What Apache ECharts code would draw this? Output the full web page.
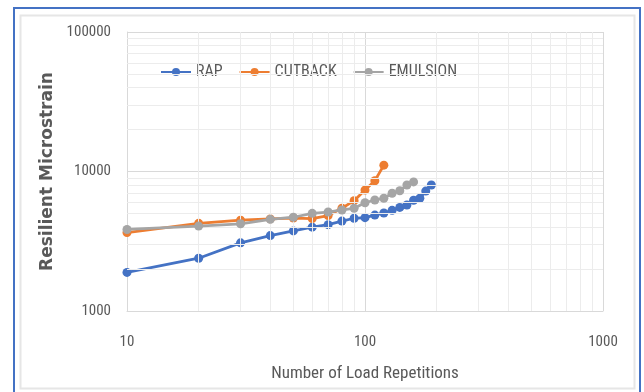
<!DOCTYPE html>
<html>
<head>
<meta charset="utf-8">
<script src="https://cdn.jsdelivr.net/npm/echarts@6/dist/echarts.min.js"></script>
<style>
  html, body { margin: 0; padding: 0; background: #ffffff; }
  #chart { width: 644px; height: 392px; }
</style>
</head>
<body>
<div id="chart"></div>
<script>
// Load repetitions at which resilient microstrain was recorded
const rapCycles = [10, 20, 30, 40, 50, 60, 70, 80, 90, 100, 110, 120, 130, 140, 150, 160, 170, 180, 190];
const rapStrain = [1890, 2390, 3080, 3470, 3750, 3990, 4160, 4410, 4620, 4670, 4870, 5040, 5270, 5530, 5750, 6220, 6430, 7240, 8000];

const cutbackCycles = [10, 20, 30, 40, 50, 60, 70, 80, 90, 100, 110, 120];
const cutbackStrain = [3650, 4250, 4480, 4570, 4640, 4600, 4830, 5450, 6180, 7360, 8590, 11100];

const emulsionCycles = [10, 20, 30, 40, 50, 60, 70, 80, 90, 100, 110, 120, 130, 140, 150, 160];
const emulsionStrain = [3840, 4060, 4220, 4540, 4700, 5010, 5120, 5300, 5450, 5970, 6250, 6430, 6980, 7280, 8000, 8420];

// Minor grid positions between the decades of each log axis
const xMinorGrid = [20, 30, 40, 50, 60, 70, 80, 90, 200, 300, 400, 500, 600, 700, 800, 900];
const yMinorGrid = [2000, 3000, 4000, 5000, 6000, 7000, 8000, 9000, 20000, 30000, 40000, 50000, 60000, 70000, 80000, 90000];

const seriesNames = ['RAP', 'CUTBACK', 'EMULSION'];
const seriesColors = ['#4472C4', '#ED7D31', '#A5A5A5'];

const textColor = '#595959';
const narrowFont = '"Liberation Sans Narrow", "Roboto Condensed", "Arial Narrow", Roboto, sans-serif';

function pairs(xs, ys) {
  return xs.map((x, i) => [x, ys[i]]);
}

function plainNumber(v) {
  return String(Math.round(v));
}

function lineSeries(idx, xs, ys) {
  return {
    name: seriesNames[idx],
    type: 'line',
    data: pairs(xs, ys),
    symbol: 'circle',
    symbolSize: 9,
    showSymbol: true,
    lineStyle: { width: 2.75, color: seriesColors[idx] },
    itemStyle: { color: seriesColors[idx] },
    z: 3 + idx,
    animation: false
  };
}

const chart = echarts.init(document.getElementById('chart'), null, { renderer: 'canvas' });

chart.setOption({
  backgroundColor: '#ffffff',
  animation: false,
  graphic: [
    { type: 'rect', shape: { x: 14, y: 8, width: 626, height: 400 },
      style: { fill: 'none', stroke: '#4472C4', lineWidth: 2 }, z: 100 },
    { type: 'rect', shape: { x: 20.5, y: 15.5, width: 614, height: 373 },
      style: { fill: 'none', stroke: '#e6e6e6', lineWidth: 2 }, z: 99 }
  ],
  grid: { left: 127, right: 41, top: 32, bottom: 81, containLabel: false },
  legend: {
    data: seriesNames,
    left: 155,
    top: 59,
    itemWidth: 30,
    itemHeight: 10,
    itemGap: 16,
    textStyle: { color: textColor, fontFamily: narrowFont, fontSize: 16 }
  },
  xAxis: {
    type: 'log',
    logBase: 10,
    min: 10,
    max: 1000,
    name: 'Number of Load Repetitions',
    nameLocation: 'middle',
    nameGap: 54,
    nameTextStyle: { color: textColor, fontFamily: narrowFont, fontSize: 17 },
    axisLine: { show: true, lineStyle: { color: '#d9d9d9', width: 1 } },
    axisTick: { show: false },
    axisLabel: { color: textColor, fontFamily: narrowFont, fontSize: 15, margin: 24, formatter: plainNumber },
    splitLine: { show: true, lineStyle: { color: '#d9d9d9', width: 1 } }
  },
  yAxis: {
    type: 'log',
    logBase: 10,
    min: 1000,
    max: 100000,
    name: 'Resilient Microstrain',
    nameLocation: 'middle',
    nameGap: 67,
    nameTextStyle: { color: textColor, fontFamily: '"DejaVu Sans", sans-serif', fontSize: 17, fontWeight: 'bold' },
    axisLine: { show: true, lineStyle: { color: '#d9d9d9', width: 1 } },
    axisTick: { show: false },
    axisLabel: { color: textColor, fontFamily: narrowFont, fontSize: 15, margin: 16, formatter: plainNumber },
    splitLine: { show: true, lineStyle: { color: '#d9d9d9', width: 1 } }
  },
  series: [
    // Faint minor grid lines, placed through the log scales
    {
      type: 'line',
      data: [],
      silent: true,
      z: 1,
      markLine: {
        silent: true,
        symbol: 'none',
        label: { show: false },
        lineStyle: { color: '#ececec', width: 1, type: 'solid' },
        animation: false,
        data: xMinorGrid.map(v => ({ xAxis: v })).concat(yMinorGrid.map(v => ({ yAxis: v })))
      }
    },
    lineSeries(0, rapCycles, rapStrain),
    lineSeries(1, cutbackCycles, cutbackStrain),
    lineSeries(2, emulsionCycles, emulsionStrain)
  ]
});
</script>
</body>
</html>
